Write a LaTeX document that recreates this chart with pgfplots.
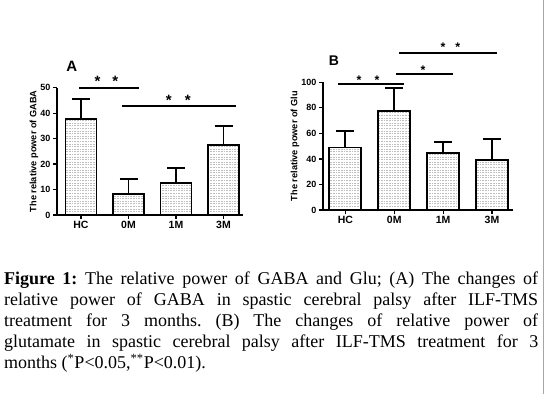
\documentclass[border=0pt]{standalone}
\usepackage{pgfplots}
\pgfplotsset{compat=1.18}
\usepackage{fontspec}
\setmainfont{Liberation Serif}
\newfontfamily\arial{Liberation Sans}
\usetikzlibrary{patterns}
\pgfdeclarepatternformonly{finedots}{\pgfqpoint{-0.5pt}{-0.5pt}}{\pgfqpoint{1.5pt}{2pt}}{\pgfqpoint{1.6pt}{2.6pt}}{\pgfpathrectangle{\pgfqpoint{0pt}{0pt}}{\pgfqpoint{0.7pt}{0.7pt}}\pgfusepath{fill}}

\pgfplotstableread{
x y e
0 37.7 7.8
1 8.3 5.9
2 12.5 6.1
3 27.5 7.3
}\gaba
\pgfplotstableread{
x y e
0 49.0 12.9
1 77.8 17.7
2 44.9 8.1
3 38.9 16.7
}\glu

\tikzset{
  starA/.style={font=\arial\bfseries\fontsize{15}{15}\selectfont, anchor=base, inner sep=0},
  starB/.style={font=\arial\bfseries\fontsize{12.5}{12}\selectfont, anchor=base, inner sep=0},
}

\pgfplotsset{
  mybars/.style={
    scale only axis, clip=false,
    axis x line*=bottom, axis y line*=left,
    axis line style={-, line width=1.5pt},
    xtick={0,1,2,3}, xticklabels={HC,0M,1M,3M},
    x tick style={line width=1.2pt, black},
    y tick style={line width=1.2pt, black},
    tick align=outside, major tick length=4pt,
    xticklabel style={font=\arial\bfseries\fontsize{10.5}{11}\selectfont, yshift=1pt},
    yticklabel style={font=\arial\bfseries\fontsize{9}{10}\selectfont, xshift=1pt},
    /pgf/number format/assume math mode=true,
    ylabel style={font=\arial\bfseries\fontsize{9.2}{10}\selectfont, anchor=center},
  },
  barstyle/.style={ybar, draw=black, line width=1.8pt, pattern=finedots, pattern color=gray!50,
    error bars/.cd, y dir=plus, y explicit,
    error bar style={line width=1.8pt, black},
    error mark options={rotate=90, mark size=9pt, line width=1.8pt, black},
    /pgfplots/.cd},
}

\begin{document}
\begin{tikzpicture}
\useasboundingbox (0,0) rectangle (547pt,394pt);
\fill[white] (0,0) rectangle (547pt,394pt);

% Panel A
\begin{axis}[mybars,
  at={(57pt,179pt)}, anchor=south west,
  width=186pt, height=127.3pt,
  xmin=-0.505, xmax=3.41, ymin=0, ymax=50,
  ytick={0,10,20,30,40,50},
  ylabel={The relative power of GABA},
  ylabel style={at={(axis description cs:-0.124,0.5)}},
]
\addplot[bar width=31pt, barstyle] table[x=x, y=y, y error=e] {\gaba};
\addplot[line width=1.8pt] coordinates {(-0.04,50) (1.22,50)};
\addplot[line width=1.8pt] coordinates {(0.86,42.8) (3.26,42.8)};
\node[starA] at (axis cs:0.35,50.3) {*};
\node[starA] at (axis cs:0.72,50.3) {*};
\node[starA] at (axis cs:1.85,43.1) {*};
\node[starA] at (axis cs:2.25,43.1) {*};
\end{axis}

% Panel B
\begin{axis}[mybars,
  at={(323pt,184pt)}, anchor=south west,
  width=190pt, height=127.7pt,
  xmin=-0.458, xmax=3.43, ymin=0, ymax=100,
  ytick={0,20,40,60,80,100},
  ylabel={The relative power of Glu},
  ylabel style={at={(axis description cs:-0.147,0.5)}},
]
\addplot[bar width=32pt, barstyle] table[x=x, y=y, y error=e] {\glu};
\addplot[line width=1.8pt] coordinates {(-0.15,98.4) (1.2,98.4)};
\addplot[line width=1.8pt] coordinates {(1.03,106.3) (2.2,106.3)};
\addplot[line width=1.8pt] coordinates {(1.1,123.2) (3.1,123.2)};
\node[starB] at (axis cs:0.28,98.4) {*};
\node[starB] at (axis cs:0.65,98.4) {*};
\node[starB] at (axis cs:1.59,106.3) {*};
\node[starB] at (axis cs:2.0,124.0) {*};
\node[starB] at (axis cs:2.3,124.0) {*};
\end{axis}

\node[font=\arial\bfseries\fontsize{15}{15}\selectfont, inner sep=0] at (71.7pt,328pt) {A};
\node[font=\arial\bfseries\fontsize{14}{14}\selectfont, inner sep=0] at (334pt,333.5pt) {B};

\draw[gray!70, line width=0.8pt] (543pt,0) -- (543pt,394pt);

\node[anchor=north west, inner sep=0, text width=534pt, align=justify,
      font=\fontsize{18}{21.1}\selectfont] at (4pt,122.3pt)
{\frenchspacing\hyphenpenalty=10000 \textbf{Figure 1:} The relative power of GABA and Glu; (A) The changes of\linebreak
relative power of GABA in spastic cerebral palsy after ILF-TMS\linebreak
treatment for 3 months. (B) The changes of relative power of\linebreak
glutamate in spastic cerebral palsy after ILF-TMS treatment for 3\linebreak
months (\textsuperscript{*}P\textless0.05,\textsuperscript{**}P\textless0.01).};
\end{tikzpicture}
\end{document}
